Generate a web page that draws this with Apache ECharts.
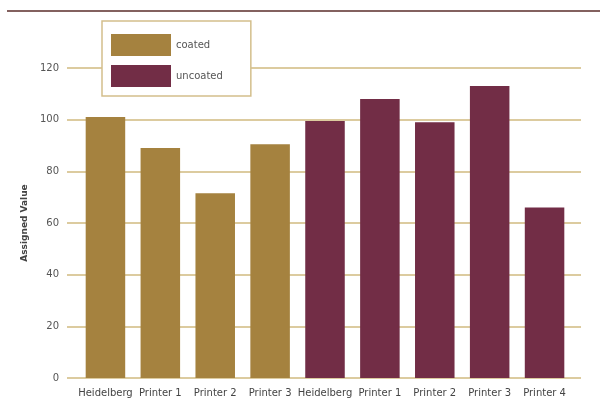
<!DOCTYPE html>
<html>
<head>
<meta charset="utf-8">
<script src="https://cdn.jsdelivr.net/npm/echarts@6/dist/echarts.min.js"></script>
<style>
  html, body { margin: 0; padding: 0; background: #fff; }
  #chart { width: 600px; height: 407px; }
</style>
</head>
<body>
<div id="chart"></div>
<script>
// Printer categories and assigned values
const categories = ['Heidelberg', 'Printer 1', 'Printer 2', 'Printer 3',
                    'Heidelberg', 'Printer 1', 'Printer 2', 'Printer 3', 'Printer 4'];
const coatedValues = [101, 89, 71.5, 90.5];
const uncoatedValues = [99.5, 108, 99, 113, 66];
const yTicks = [0, 20, 40, 60, 80, 100, 120];

const GOLD = '#a5823f';
const WINE = '#722d46';
const GRID_LINE = '#dccb9f';
const FONT = '"DejaVu Sans", sans-serif';

// coated bars occupy the first four slots, uncoated the remaining five
const coatedSeries = categories.map((_, i) => i < coatedValues.length ? coatedValues[i] : '-');
const uncoatedSeries = categories.map((_, i) =>
  i >= coatedValues.length ? uncoatedValues[i - coatedValues.length] : '-');

const chart = echarts.init(document.getElementById('chart'), null, { renderer: 'canvas' });

const yMin = yTicks[0], yMax = yTicks[yTicks.length - 1];

chart.setOption({
  animation: false,
  textStyle: { fontFamily: FONT },
  graphic: [{
    type: 'line',
    shape: { x1: 7, y1: 11, x2: 600, y2: 11 },
    style: { stroke: '#5a2c2a', lineWidth: 1.5 },
    z: 10
  }],
  legend: {
    orient: 'vertical',
    left: 102, top: 21,
    data: ['coated', 'uncoated'],
    icon: 'rect',
    itemWidth: 60, itemHeight: 22, itemGap: 9,
    padding: [13, 28, 9, 9],
    backgroundColor: '#fff',
    borderColor: '#d4bf8c',
    borderWidth: 1.5,
    textStyle: { fontFamily: FONT, fontSize: 10, color: '#555' },
    z: 5
  },
  grid: [
    { left: 67, right: 19, top: 68, bottom: 29 },
    { left: 78, right: 28, top: 68, bottom: 29 }
  ],
  xAxis: [
    { type: 'value', gridIndex: 0, show: false, min: 0, max: 1 },
    {
      type: 'category', gridIndex: 1, data: categories,
      axisLine: { show: false }, axisTick: { show: false },
      axisLabel: { margin: 10, fontSize: 10, color: '#444', fontFamily: FONT, interval: 0 }
    }
  ],
  yAxis: [
    {
      type: 'value', gridIndex: 0, min: yMin, max: yMax, interval: 20,
      name: 'Assigned Value', nameLocation: 'middle', nameGap: 36,
      nameTextStyle: { fontSize: 9, fontWeight: 'bold', color: '#444', fontFamily: FONT },
      axisLine: { show: false }, axisTick: { show: false },
      axisLabel: { margin: 8, fontSize: 10, color: '#555', fontFamily: FONT },
      splitLine: { lineStyle: { color: GRID_LINE, width: 2 } }
    },
    {
      type: 'value', gridIndex: 1, min: yMin, max: yMax, interval: 20,
      show: false, splitLine: { show: false }
    }
  ],
  series: [
    {
      name: 'coated', type: 'bar', xAxisIndex: 1, yAxisIndex: 1,
      stack: 'all', data: coatedSeries, barCategoryGap: '28%',
      itemStyle: { color: GOLD }
    },
    {
      name: 'uncoated', type: 'bar', xAxisIndex: 1, yAxisIndex: 1,
      stack: 'all', data: uncoatedSeries, barCategoryGap: '28%',
      itemStyle: { color: WINE }
    }
  ]
});
</script>
</body>
</html>
